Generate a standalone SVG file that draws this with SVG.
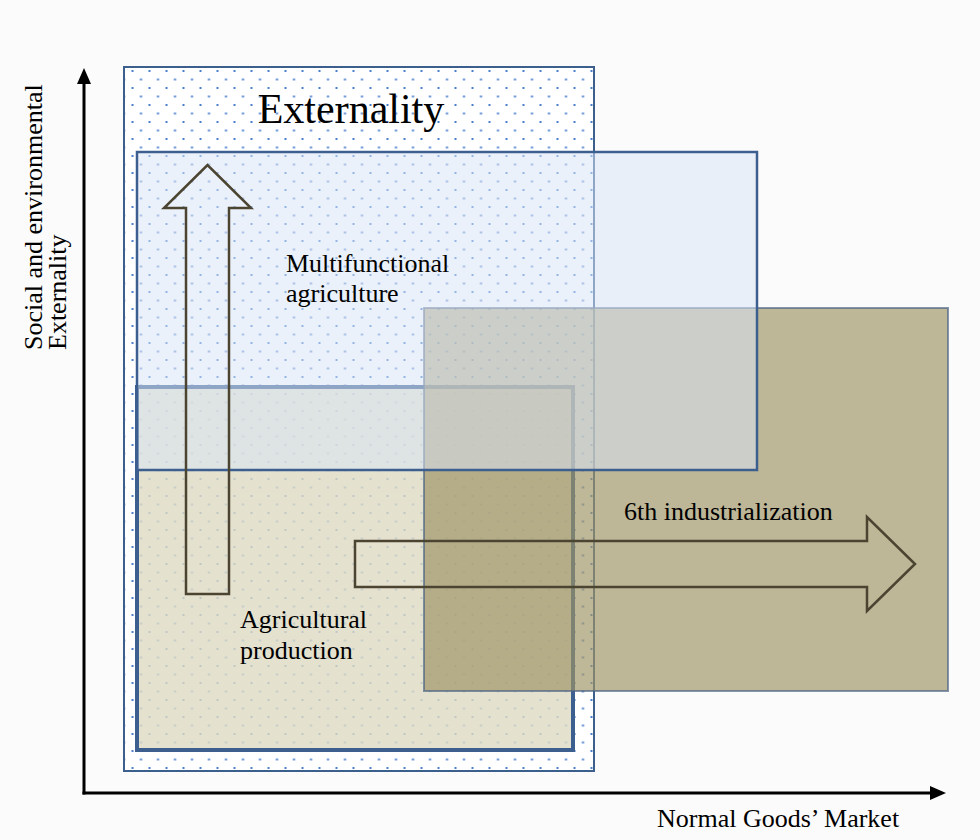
<svg xmlns="http://www.w3.org/2000/svg" width="980" height="840" viewBox="0 0 980 840">
<defs>
<style>
.t{font-family:"Liberation Serif","Times New Roman",serif;fill:#000;}
.arrow{fill:none;stroke:#4b4431;stroke-width:2.5;stroke-linejoin:miter;}
.axis{stroke:#000;stroke-width:3;fill:none;}
</style>
<pattern id="dots" patternUnits="userSpaceOnUse" x="131.5" y="70" width="17" height="17">
<rect x="0" y="0" width="2" height="2" fill="#4a7fcc"/>
<rect x="8.5" y="8.5" width="2" height="2" fill="#4a7fcc"/>
</pattern>
<marker id="ah" markerWidth="16" markerHeight="14" refX="10" refY="7" orient="auto" markerUnits="userSpaceOnUse">
<path d="M0,0 L16,7 L0,14 z" fill="#000"/>
</marker>
</defs>
<rect x="0" y="0" width="980" height="840" fill="#fbfbfb"/>

<g id="externality">
<rect x="124" y="67" width="470" height="704" fill="#ffffff"/>
<rect x="124" y="67" width="470" height="704" fill="url(#dots)" stroke="#3d5f8e" stroke-width="2"/>
<text class="t" x="351" y="123" font-size="42" text-anchor="middle">Externality</text>
</g>

<g id="agricultural-production">
<rect x="137" y="387" width="436" height="363" fill="#ddd9c3" fill-opacity="0.8" stroke="#3c5f8f" stroke-width="4"/>
</g>

<g id="sixth-industrialization">
<rect x="424" y="308" width="524" height="383" fill="#9e9365" fill-opacity="0.67" stroke="#4a6283" stroke-opacity="0.67" stroke-width="2"/>
</g>

<g id="multifunctional-agriculture">
<rect x="137" y="152" width="620" height="318" fill="#dae5f6" fill-opacity="0.53" stroke="#3c5f8f" stroke-width="2.5"/>
</g>

<g id="connectors">
<path class="arrow" d="M186,594 L186,208 L164,208 L207.5,165 L251,208 L229,208 L229,594 Z"/>
<path class="arrow" d="M355,541 L867,541 L867,517 L915,564 L867,611 L867,587 L355,587 Z"/>
<line class="axis" x1="84" y1="794.5" x2="84" y2="74" marker-end="url(#ah)"/>
<line class="axis" x1="82.5" y1="793" x2="940" y2="793" marker-end="url(#ah)"/>
</g>

<g id="labels">
<text class="t" x="286" y="272" font-size="26">Multifunctional</text>
<text class="t" x="286" y="302" font-size="26">agriculture</text>
<text class="t" x="240" y="628" font-size="26">Agricultural</text>
<text class="t" x="240" y="659" font-size="26">production</text>
<text class="t" x="624" y="520" font-size="26">6th industrialization</text>
<text class="t" x="657" y="827" font-size="26">Normal Goods’ Market</text>
<text class="t" transform="translate(42,350) rotate(-90)" font-size="26">Social and environmental</text>
<text class="t" transform="translate(66,350) rotate(-90)" font-size="26">Externality</text>
</g>
</svg>
